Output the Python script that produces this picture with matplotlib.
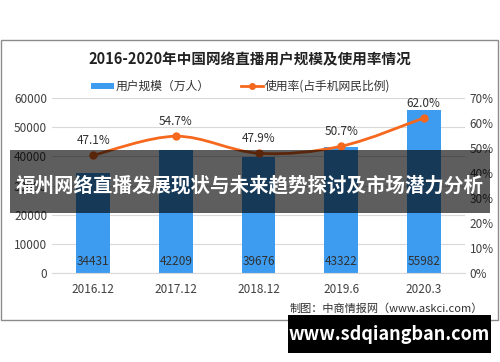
import numpy as np
import matplotlib
matplotlib.use('Agg')
from matplotlib import pyplot as plt
from matplotlib.path import Path
from matplotlib.patches import PathPatch, Rectangle
from matplotlib.lines import Line2D

plt.rcParams['font.family'] = ['Noto Sans CJK SC', 'DejaVu Sans']

periods = ['2016.12', '2017.12', '2018.12', '2019.6', '2020.3']
users = [34431, 42209, 39676, 43322, 55982]
rate = [47.1, 54.7, 47.9, 50.7, 62.0]

bar_color = '#3d9cf0'
line_color = '#f5681e'

W, H = 500, 362
fig = plt.figure(figsize=(W / 100, H / 100), dpi=100)


def px(x, y, w, h):
    return [x / W, 1 - (y + h) / H, w / W, h / H]


# chart frame
fig.patches.append(Rectangle((1 / W, 1 - 320 / H), 497 / W, 280 / H, transform=fig.transFigure,
                             facecolor='none', edgecolor='#8c8c8c', lw=1, zorder=0))

ax = fig.add_axes(px(52, 98, 413, 175))
ax.set_zorder(2)
ax.patch.set_alpha(0)
x = np.arange(len(periods))
ax.bar(x, users, width=0.41, color=bar_color, zorder=2)
ax.set_ylim(0, 60000)
ax.set_xlim(-0.5, len(periods) - 0.5)
ax.set_yticks(range(0, 60001, 10000))
ax.set_xticks(x)
ax.set_xticklabels(periods)
ax.grid(axis='y', color='#d9d9d9', lw=0.8, zorder=0)
for s in ax.spines.values():
    s.set_visible(False)
ax.spines['bottom'].set_visible(True)
ax.spines['bottom'].set_color('#d9d9d9')
ax.tick_params(length=0, labelsize=8.5, colors='#404040')
ax.tick_params(axis='x', pad=7)
for xi, v in zip(x, users):
    ax.text(xi, 4000, str(v), ha='center', va='center', fontsize=8.5, color='#303030', zorder=3)

ax2 = ax.twinx()
ax2.set_ylim(0, 70)
ax2.set_yticks(range(0, 71, 10))
ax2.set_yticklabels([f'{v}%' for v in range(0, 71, 10)])
for s in ax2.spines.values():
    s.set_visible(False)
ax2.tick_params(length=0, labelsize=8.5, colors='#404040')

# smooth line through the points (Catmull-Rom to Bezier)
pts = np.column_stack([x, rate]).astype(float)
verts = [tuple(pts[0])]
codes = [Path.MOVETO]
for i in range(len(pts) - 1):
    p0 = pts[max(i - 1, 0)]
    p1 = pts[i]
    p2 = pts[i + 1]
    p3 = pts[min(i + 2, len(pts) - 1)]
    c1 = p1 + (p2 - p0) / 6
    c2 = p2 - (p3 - p1) / 6
    verts += [tuple(c1), tuple(c2), tuple(p2)]
    codes += [Path.CURVE4] * 3
ax2.add_patch(PathPatch(Path(verts, codes), facecolor='none', edgecolor=line_color, lw=2, zorder=4))
ax2.plot(x, rate, 'o', color=line_color, ms=5, zorder=5)
for xi, v in zip(x, rate):
    ax2.annotate(f'{v:.1f}%', (xi, v), xytext=(0, 6), textcoords='offset points',
                 ha='center', va='bottom', fontsize=8.5, color='#303030')

# title and legend
fig.text(250 / W, 1 - 59 / H, '2016-2020年中国网络直播用户规模及使用率情况', ha='center', va='center',
         fontsize=10.5, fontweight='bold', color='#222222')
fig.patches.append(Rectangle((91 / W, 1 - 89 / H), 23 / W, 6 / H, transform=fig.transFigure,
                             facecolor=bar_color, edgecolor='none'))
fig.text(116 / W, 1 - 86 / H, '用户规模（万人）', ha='left', va='center', fontsize=8.5, color='#303030')
fig.lines.append(Line2D([241 / W, 263 / W], [1 - 86 / H, 1 - 86 / H], transform=fig.transFigure,
                        color=line_color, lw=2))
fig.lines.append(Line2D([252 / W], [1 - 86 / H], transform=fig.transFigure,
                        color=line_color, marker='o', ms=4))
fig.text(265 / W, 1 - 86 / H, '使用率(占手机网民比例)', ha='left', va='center', fontsize=8.5, color='#303030')

fig.text(483 / W, 1 - 309 / H, '制图：中商情报网（www.askci.com）', ha='right', va='center',
         fontsize=8, color='#303030')

# overlay band
fig.patches.append(Rectangle((10 / W, 1 - 213 / H), 480 / W, 63 / H, transform=fig.transFigure,
                             facecolor='black', alpha=0.63, edgecolor='none', zorder=10))
fig.text(250 / W, 1 - 186 / H, '福州网络直播发展现状与未来趋势探讨及市场潜力分析', ha='center', va='center',
         fontsize=14, fontweight='bold', color='white', zorder=11)

# site box
fig.patches.append(Rectangle((288 / W, 1 - 353 / H), 203 / W, 38 / H, transform=fig.transFigure,
                             facecolor='black', edgecolor='none', zorder=10))
fig.text(389 / W, 1 - 335 / H, 'www.sdqiangban.com', ha='center', va='center',
         fontsize=13, fontweight='bold', color='white', zorder=11)

fig.savefig('out.png', dpi=100)
